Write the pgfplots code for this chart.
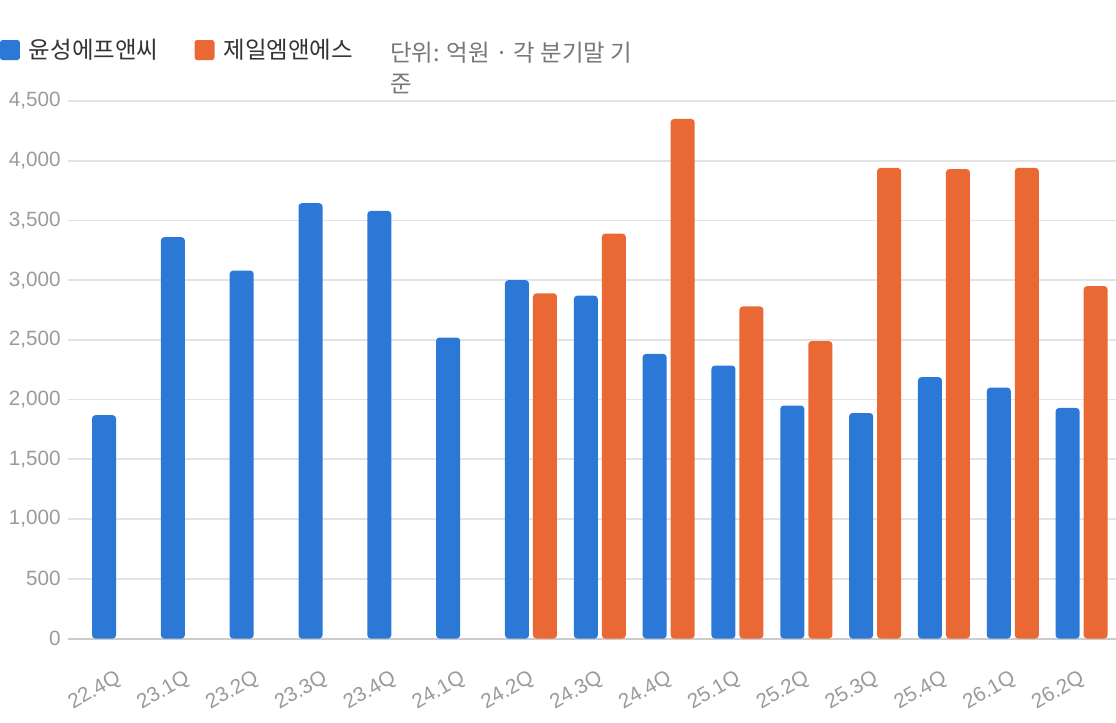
\documentclass[border=0pt]{standalone}
\usepackage{fontspec}
\setmainfont{Liberation Sans}
\newfontfamily\kr{Noto Sans CJK KR}
\usepackage{pgfplots}
\pgfplotsset{compat=1.18}
\definecolor{cblue}{HTML}{2B78D6}
\definecolor{corange}{HTML}{EA6834}
\definecolor{gridc}{HTML}{E3E3E3}
\definecolor{basec}{HTML}{CCCCCC}
\definecolor{tickc}{HTML}{9A9A9A}
\definecolor{legc}{HTML}{333333}
\definecolor{unitc}{HTML}{777777}
\begin{document}
\begin{tikzpicture}
\begin{axis}[
  at={(50.625pt,62.625pt)}, anchor=south west,
  scale only axis, width=786.4pt, height=403.1pt,
  ybar=3pt, bar width=18pt,
  xmin=-0.734, xmax=14.5, ymin=0, ymax=4500,
  xtick={0,...,14},
  xticklabels={22.4Q,23.1Q,23.2Q,23.3Q,23.4Q,24.1Q,24.2Q,24.3Q,24.4Q,25.1Q,25.2Q,25.3Q,25.4Q,26.1Q,26.2Q},
  ytick={0,500,...,4500},
  extra y ticks={0}, extra y tick labels={},
  extra y tick style={grid style={basec, line width=1.5pt}},
  ymajorgrids, grid style={gridc, line width=1.3pt},
  major tick length=0pt,
  axis line style={draw=none},
  /pgf/number format/.cd, 1000 sep={,}, assume math mode=true, /pgfplots/.cd,
  yticklabel style={font=\fontsize{15.5}{18}\selectfont, text=tickc, anchor=east, inner sep=0pt, xshift=-5pt},
  xticklabel style={font=\fontsize{15.5}{18}\selectfont, text=tickc, inner sep=0pt, xshift=-2.5pt, yshift=-22.5pt, rotate=30, anchor=north east},
  legend columns=2,
  legend style={at={(rel axis cs:-0.0644,1.0949)}, anchor=west, draw=none, fill=none,
    inner sep=0pt, outer sep=0pt, nodes={inner sep=0pt},
    font=\kr\fontsize{17.6}{21}\selectfont, text=legc,
    /tikz/every odd column/.append style={column sep=6.75pt},
    /tikz/every even column/.append style={column sep=27pt}},
]
\addplot[fill=cblue, draw=none, rounded corners=2.5pt,
  legend image code/.code={\path[fill=cblue, rounded corners=2pt] (0pt,-7.5pt) rectangle (15pt,7.5pt);}]
  coordinates {(0,1870) (1,3360) (2,3080) (3,3645) (4,3580) (5,2520) (6,3000) (7,2870) (8,2383) (9,2285) (10,1950) (11,1888) (12,2188) (13,2100) (14,1930)};
\addlegendentry{윤성에프앤씨}
\addplot[fill=corange, draw=none, rounded corners=2.5pt,
  legend image code/.code={\path[fill=corange, rounded corners=2pt] (0pt,-7.5pt) rectangle (15pt,7.5pt);}]
  coordinates {(6,2890) (7,3390) (8,4350) (9,2780) (10,2490) (11,3940) (12,3930) (13,3940) (14,2950)};
\addlegendentry{제일엠앤에스}
\end{axis}
\node[anchor=base west, font=\kr\fontsize{17.6}{23.25}\selectfont, text=unitc, align=left, inner sep=0pt] at (292.5pt,471.75pt) {단위: 억원 · 각 분기말 기\\준};
\pgfresetboundingbox
\path[use as bounding box] (0pt,0pt) rectangle (837pt,541.5pt);
\end{tikzpicture}
\end{document}
